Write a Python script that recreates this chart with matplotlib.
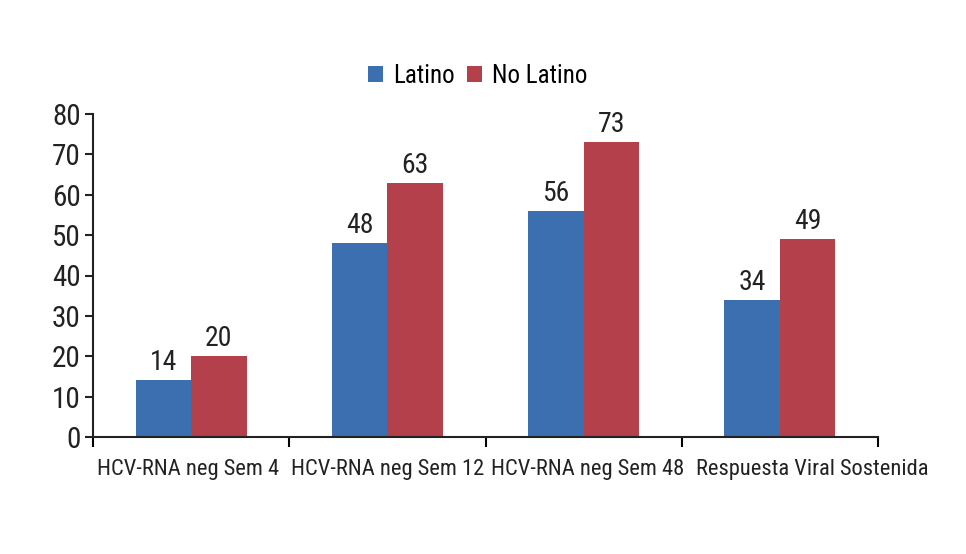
import numpy as np
import matplotlib
matplotlib.use('Agg')
import matplotlib.pyplot as plt
from matplotlib.transforms import ScaledTranslation

plt.rcParams['font.family'] = ['Roboto Condensed', 'DejaVu Sans']

categories = ['HCV-RNA neg Sem 4', 'HCV-RNA neg Sem 12', 'HCV-RNA neg Sem 48',
              'Respuesta Viral Sostenida']
latino = [14, 48, 56, 34]
no_latino = [20, 63, 73, 49]
series_names = ['Latino', 'No Latino']
yticks = [0, 10, 20, 30, 40, 50, 60, 70, 80]

blue = '#3c6fb0'
red = '#b3404a'
ink = '#222222'

fig = plt.figure(figsize=(9.66, 5.54), dpi=100)
ax = fig.add_axes([93 / 966, 1 - 437 / 554, (878 - 93) / 966, (437 - 114) / 554])

x = np.arange(len(categories))
w = 0.283
b1 = ax.bar(x - w / 2, latino, w, color=blue, label=series_names[0])
b2 = ax.bar(x + w / 2, no_latino, w, color=red, label=series_names[1])

for bars in (b1, b2):
    for rect in bars:
        h = rect.get_height()
        ax.text(rect.get_x() + rect.get_width() / 2, h + 1.0, f'{h:g}',
                ha='center', va='bottom', fontsize=20, color=ink)

ax.set_xlim(-0.5, len(categories) - 0.5)
ax.set_ylim(0, 80)
ax.set_yticks(yticks)
ax.tick_params(axis='y', labelsize=21, length=6, width=1.5, direction='out', pad=3,
               colors=ink)
# boundary ticks between groups, labels centred on groups
ax.set_xticks(np.arange(len(categories) + 1) - 0.5)
ax.set_xticklabels([])
ax.set_xticks(x, minor=True)
ax.set_xticklabels(categories, minor=True, fontsize=16.2, color=ink)
ax.tick_params(axis='x', which='major', length=7, width=1.5, direction='out')
ax.tick_params(axis='x', which='minor', length=0, pad=16)

# last label sits a little to the right in the original, away from its neighbour
shifts = [-0.03, 0.0, 0.04, 0.32]
for lab, dx in zip(ax.get_xticklabels(minor=True), shifts):
    lab.set_transform(lab.get_transform() + ScaledTranslation(dx, 0, fig.dpi_scale_trans))

for s in ['top', 'right']:
    ax.spines[s].set_visible(False)
for s in ['left', 'bottom']:
    ax.spines[s].set_linewidth(1.5)
    ax.spines[s].set_color(ink)

fig.legend(handles=[b1, b2], labels=series_names, loc='center',
           bbox_to_anchor=(478 / 966, 1 - 76 / 554), ncol=2, frameon=False,
           fontsize=18, handlelength=0.6, handleheight=0.6, handletextpad=0.4,
           columnspacing=0.5)

fig.savefig('out.png', dpi=100)
